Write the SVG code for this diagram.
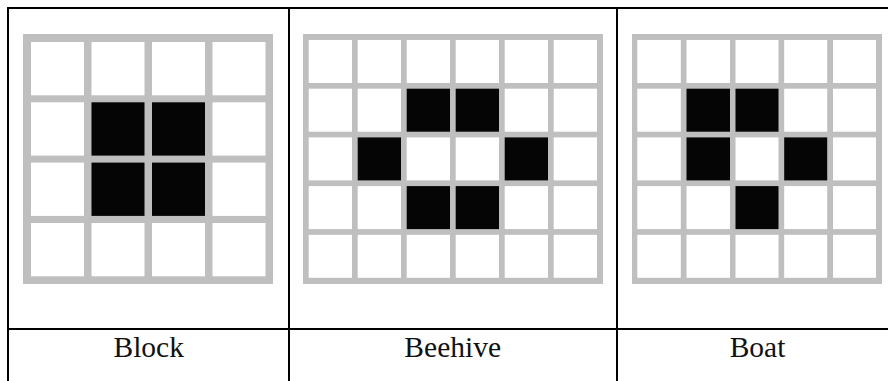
<svg xmlns="http://www.w3.org/2000/svg" width="888" height="381" viewBox="0 0 888 381">
<style>
.bg{fill:#ffffff}
.grid{fill:#bfbfbf}
.w{fill:#ffffff}
.b{fill:#050505}
.rule{stroke:#000000;stroke-width:2;fill:none}
.lbl{font-family:"Liberation Serif","Times New Roman",serif;font-size:29.5px;fill:#111111;text-anchor:middle}
</style>
<rect class="bg" x="0" y="0" width="888" height="381"/>
<g id="table">
<line class="rule" x1="7" y1="8" x2="888" y2="8"/>
<line class="rule" x1="7" y1="329" x2="888" y2="329"/>
<line class="rule" x1="8" y1="7" x2="8" y2="381"/>
<line class="rule" x1="289" y1="7" x2="289" y2="381"/>
<line class="rule" x1="617" y1="7" x2="617" y2="381"/>
</g>
<g id="block">
<rect class="grid" x="23" y="34" width="250" height="250"/>
<g class="w">
<rect x="31" y="42" width="53" height="53.3"/><rect x="91.5" y="42" width="53" height="53.3"/><rect x="152" y="42" width="53" height="53.3"/><rect x="212.5" y="42" width="53" height="53.3"/>
<rect x="31" y="102.3" width="53" height="53.3"/><rect x="212.5" y="102.3" width="53" height="53.3"/>
<rect x="31" y="162.6" width="53" height="53.3"/><rect x="212.5" y="162.6" width="53" height="53.3"/>
<rect x="31" y="223" width="53" height="53.3"/><rect x="91.5" y="223" width="53" height="53.3"/><rect x="152" y="223" width="53" height="53.3"/><rect x="212.5" y="223" width="53" height="53.3"/>
</g>
<g class="b">
<rect x="91.5" y="102.3" width="53" height="53.3"/><rect x="152" y="102.3" width="53" height="53.3"/>
<rect x="91.5" y="162.6" width="53" height="53.3"/><rect x="152" y="162.6" width="53" height="53.3"/>
</g>
<text class="lbl" x="148.7" y="357">Block</text>
</g>
<g id="beehive">
<rect class="grid" x="303" y="34" width="300" height="250"/>
<g class="w">
<rect x="308.7" y="40" width="43.3" height="43"/><rect x="357.7" y="40" width="43.3" height="43"/><rect x="406.7" y="40" width="43.3" height="43"/><rect x="455.7" y="40" width="43.3" height="43"/><rect x="504.7" y="40" width="43.3" height="43"/><rect x="553.7" y="40" width="43.3" height="43"/>
<rect x="308.7" y="88.7" width="43.3" height="43"/><rect x="357.7" y="88.7" width="43.3" height="43"/><rect x="504.7" y="88.7" width="43.3" height="43"/><rect x="553.7" y="88.7" width="43.3" height="43"/>
<rect x="308.7" y="137.4" width="43.3" height="43"/><rect x="406.7" y="137.4" width="43.3" height="43"/><rect x="455.7" y="137.4" width="43.3" height="43"/><rect x="553.7" y="137.4" width="43.3" height="43"/>
<rect x="308.7" y="186.1" width="43.3" height="43"/><rect x="357.7" y="186.1" width="43.3" height="43"/><rect x="504.7" y="186.1" width="43.3" height="43"/><rect x="553.7" y="186.1" width="43.3" height="43"/>
<rect x="308.7" y="234.8" width="43.3" height="43"/><rect x="357.7" y="234.8" width="43.3" height="43"/><rect x="406.7" y="234.8" width="43.3" height="43"/><rect x="455.7" y="234.8" width="43.3" height="43"/><rect x="504.7" y="234.8" width="43.3" height="43"/><rect x="553.7" y="234.8" width="43.3" height="43"/>
</g>
<g class="b">
<rect x="406.7" y="88.7" width="43.3" height="43"/><rect x="455.7" y="88.7" width="43.3" height="43"/>
<rect x="357.7" y="137.4" width="43.3" height="43"/><rect x="504.7" y="137.4" width="43.3" height="43"/>
<rect x="406.7" y="186.1" width="43.3" height="43"/><rect x="455.7" y="186.1" width="43.3" height="43"/>
</g>
<text class="lbl" x="452.7" y="357">Beehive</text>
</g>
<g id="boat">
<rect class="grid" x="632" y="34" width="250" height="250"/>
<g class="w">
<rect x="637.3" y="40" width="43.5" height="43"/><rect x="686.5" y="40" width="43.5" height="43"/><rect x="735.5" y="40" width="43" height="43"/><rect x="784.2" y="40" width="43" height="43"/><rect x="833" y="40" width="43" height="43"/>
<rect x="637.3" y="88.7" width="43.5" height="43"/><rect x="784.2" y="88.7" width="43" height="43"/><rect x="833" y="88.7" width="43" height="43"/>
<rect x="637.3" y="137.4" width="43.5" height="43"/><rect x="735.5" y="137.4" width="43" height="43"/><rect x="833" y="137.4" width="43" height="43"/>
<rect x="637.3" y="186.1" width="43.5" height="43"/><rect x="686.5" y="186.1" width="43.5" height="43"/><rect x="784.2" y="186.1" width="43" height="43"/><rect x="833" y="186.1" width="43" height="43"/>
<rect x="637.3" y="234.8" width="43.5" height="43"/><rect x="686.5" y="234.8" width="43.5" height="43"/><rect x="735.5" y="234.8" width="43" height="43"/><rect x="784.2" y="234.8" width="43" height="43"/><rect x="833" y="234.8" width="43" height="43"/>
</g>
<g class="b">
<rect x="686.5" y="88.7" width="43.5" height="43"/><rect x="735.5" y="88.7" width="43" height="43"/>
<rect x="686.5" y="137.4" width="43.5" height="43"/><rect x="784.2" y="137.4" width="43" height="43"/>
<rect x="735.5" y="186.1" width="43" height="43"/>
</g>
<text class="lbl" x="757.5" y="357">Boat</text>
</g>
</svg>
